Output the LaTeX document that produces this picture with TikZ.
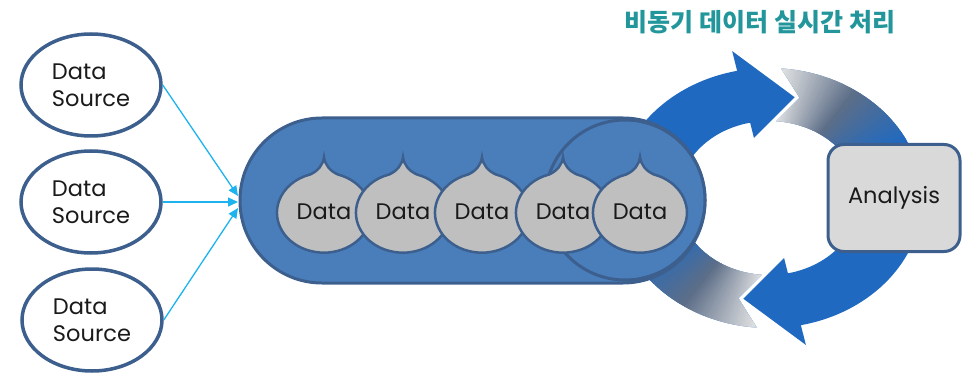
\documentclass[tikz,border=0pt]{standalone}
\usepackage{fontspec}
\setmainfont{Poppins}
\newfontfamily\krfont{Noto Sans CJK KR}
\usetikzlibrary{arrows.meta,shapes.geometric}
\definecolor{edge}{HTML}{3C5F8E}
\definecolor{capfill}{HTML}{4A7EBB}
\definecolor{dropfill}{HTML}{BFBFBF}
\definecolor{boxfill}{HTML}{D9D9D9}
\definecolor{cyanline}{HTML}{1CB3EE}
\definecolor{ringblue}{HTML}{1F69C1}
\definecolor{ringslate}{HTML}{5D6E88}
\definecolor{ringlight}{HTML}{E4E4E4}
\definecolor{titleteal}{HTML}{22969A}
\definecolor{textgray}{HTML}{1A1A1A}
\tikzset{
  txt/.style={font=\fontsize{22.5}{27}\selectfont, text=textgray},
  source/.style={ellipse, draw=edge, line width=3.5pt, fill=white,
    minimum width=140pt, minimum height=102pt, align=left, inner sep=0pt, txt},
  feed/.style={draw=cyanline, line width=1.3pt, -{Triangle[length=10pt,width=9pt]}},
  dropshape/.style={fill=dropfill, draw=edge, line width=2.5pt},
  queue/.style={draw=edge, fill=capfill, line width=3pt, rounded corners=82pt,
    minimum width=465pt, minimum height=165pt},
  headcircle/.style={circle, draw=edge, fill=capfill, line width=3pt, minimum size=160pt},
  anabox/.style={draw=edge, fill=boxfill, line width=3pt, rounded corners=16pt,
    minimum width=132pt, minimum height=107pt, txt},
  datadrop/.pic={
    \path[dropshape] (-14,-37.5) .. controls (-6,-41) and (-1,-47) .. (0,-55)
      .. controls (1,-47) and (6,-41) .. (14,-37.5)
      arc[start angle=-72.6, end angle=252.6, x radius=47, y radius=40] -- cycle;
    \node[txt] (-text) at (0,0) {Data};
  }
}
\newcommand{\ringarrow}[1]{(#1+265.5:130) arc[start angle=#1+265.5, end angle=#1+102, radius=130]
  -- (#1+102:152) -- (#1+77:103.5) -- (#1+102:60) -- (#1+102:77)
  arc[start angle=#1+102, end angle=#1+265.5, radius=77] -- (#1+255.5:103.5) -- cycle}
\newcommand{\ringgrad}[1]{%
  \begin{scope}
    \clip \ringarrow{#1};
    \foreach \i in {0,...,59} {
      \pgfmathsetmacro\a{#1+266.5-\i}
      \ifnum\i<30
        \pgfmathtruncatemacro\p{\i*100/30}\colorlet{gc}{ringslate!\p!ringlight}
      \else
        \pgfmathtruncatemacro\p{(\i-30)*100/30}\colorlet{gc}{ringblue!\p!ringslate}
      \fi
      \fill[gc] (\a:170) arc[start angle=\a, end angle=\a-1.4, radius=170]
        -- (\a-1.4:40) arc[start angle=\a-1.4, end angle=\a, radius=40] -- cycle;
    }
  \end{scope}}
\begin{document}
\begin{tikzpicture}[x=1pt,y=-1pt]
\useasboundingbox (0,0) rectangle (965,374);
% title
\node[font=\krfont\bfseries\fontsize{25}{25}\selectfont, text=titleteal] (title) at (760,22) {비동기 데이터 실시간 처리};
% cycle arrows
\begin{scope}[shift={(769,198)}, xscale=1.18, yscale=-1]
  \fill[ringblue] \ringarrow{0};
  \ringgrad{0}
  \fill[ringblue] \ringarrow{180};
  \ringgrad{180}
  \draw[white, line width=2pt] (102:152) -- (77:103.5) -- (102:60);
  \draw[white, line width=2pt] (282:152) -- (257:103.5) -- (282:60);
\end{scope}
% sources
\node[source] (ds1) at (91,85) {Data\\Source};
\node[source] (ds2) at (91,202) {Data\\Source};
\node[source] (ds3) at (92,320) {Data\\Source};
% queue
\node[queue] (queue) at (472.5,200.5) {};
\node[headcircle] (head) at (625,200) {};
\coordinate (t1) at (238,196);
\coordinate (t2) at (238,202);
\coordinate (t3) at (238,208);
\draw[feed] (ds1.east) -- (t1);
\draw[feed] (ds2.east) -- (t2);
\draw[feed] (ds3.east) -- (t3);
% data drops
\pic (d1) at (324,212) {datadrop};
\pic (d2) at (403,212) {datadrop};
\pic (d3) at (482,212) {datadrop};
\pic (d4) at (563,212) {datadrop};
\pic (d5) at (640,212) {datadrop};
% analysis
\node[anabox] (ana) at (894,198) {Analysis};
\end{tikzpicture}
\end{document}
